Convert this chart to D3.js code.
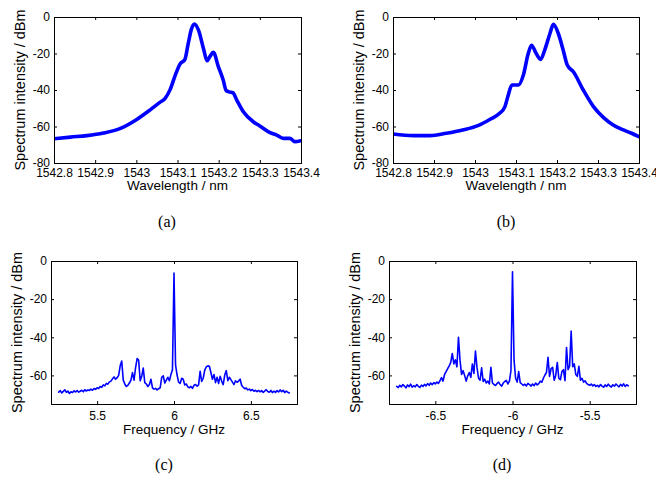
<!DOCTYPE html>
<html>
<head>
<meta charset="utf-8">
<script src="https://cdn.jsdelivr.net/npm/d3@7"></script>
<style>
  body { margin: 0; background: #fff; }
  svg { display: block; }
  text { font-family: "Liberation Sans", Arial, Helvetica, sans-serif; fill: #000; }
  .caption { font-family: "Liberation Serif", "Times New Roman", serif; font-size: 16px; }
</style>
</head>
<body>
<svg id="chart" width="656" height="478"></svg>
<script>
// (a) optical spectrum, wavelength in nm / dBm
const wavelengthA = [1542.80, 1542.84, 1542.88, 1542.92, 1542.96, 1543.00, 1543.033, 1543.057, 1543.07, 1543.082,
  1543.096, 1543.106, 1543.118, 1543.126, 1543.134, 1543.141, 1543.151, 1543.163, 1543.172, 1543.179,
  1543.187, 1543.199, 1543.211, 1543.218, 1543.225, 1543.235, 1543.244, 1543.26, 1543.284, 1543.30,
  1543.325, 1543.341, 1543.357, 1543.373, 1543.385, 1543.40]
const spectrumA = [-66.7, -65.8, -65.0, -63.6, -61.2, -56.3, -51.0, -46.8, -44.6, -39.8,
  -31.0, -25.8, -23.2, -14.6, -6.5, -3.8, -7.2, -17.2, -24.0, -21.6,
  -19.4, -27.0, -34.5, -40.2, -41.0, -41.6, -45.5, -51.9, -57.4, -59.7,
  -63.4, -64.7, -66.5, -66.5, -68.3, -67.8]

// (b) optical spectrum
const wavelengthB = [1542.80, 1542.85, 1542.89, 1542.93, 1542.97, 1543.01, 1543.037, 1543.06, 1543.073, 1543.08,
  1543.09, 1543.106, 1543.118, 1543.13, 1543.138, 1543.149, 1543.16, 1543.17, 1543.183, 1543.191,
  1543.203, 1543.215, 1543.225, 1543.24, 1543.264, 1543.289, 1543.313, 1543.337, 1543.362, 1543.382,
  1543.40]
const spectrumB = [-64.1, -65.0, -65.0, -63.7, -61.9, -59.2, -56.0, -52.8, -49.1, -43.7,
  -37.3, -37.3, -31.8, -19.9, -15.5, -19.9, -23.2, -18.1, -8.9, -4.0,
  -8.9, -18.1, -26.3, -30.0, -40.0, -49.1, -55.0, -59.2, -61.9, -63.7,
  -65.6]

// (c) RF spectrum, sampled every 0.01 GHz from 5.25 GHz
const freqStartC = 5.25
const dbmC = [
  -68.8, -68.0, -69.2, -68.4, -67.6, -68.9, -68.2, -69.5, -68.6, -69.0,
  -68.1, -68.7, -67.9, -68.8, -68.3, -67.8, -68.6, -67.5, -68.2, -67.6,
  -67.9, -67.2, -67.8, -66.9, -67.3, -66.5, -66.9, -65.8, -66.2, -65.0,
  -65.5, -64.2, -64.6, -63.4, -63.0, -61.8, -60.8, -62.0, -61.2, -60.0,
  -55.0, -52.5, -62.5, -64.5, -65.8, -65.2, -64.0, -62.5, -58.5, -62.5,
  -56.0, -51.2, -52.0, -62.8, -60.5, -56.2, -63.8, -64.5, -65.8, -64.8,
  -62.0, -66.5, -67.2, -66.8, -67.6, -67.0, -66.5, -61.0, -60.2, -64.0,
  -62.5, -61.0, -62.8, -59.5, -57.0, -6.3, -54.5, -59.8, -63.5, -64.2,
  -61.5, -62.0, -65.0, -64.5, -66.0, -66.5, -65.8, -66.8, -65.2, -64.8,
  -65.6, -65.0, -57.8, -63.2, -61.5, -57.2, -55.5, -55.0, -55.2, -58.5,
  -62.0, -59.5, -63.8, -61.0, -64.2, -60.5, -63.0, -64.8, -59.8, -57.5,
  -62.8, -61.0, -62.2, -63.5, -64.8, -62.8, -63.6, -63.0, -62.0, -65.2,
  -66.2, -67.0, -66.6, -67.6, -67.2, -68.0, -67.4, -68.3, -67.8, -68.5,
  -67.9, -68.6, -68.0, -68.9, -68.2, -67.5, -68.4, -68.8, -67.9, -69.0,
  -68.3, -68.9, -68.0, -68.7, -67.6, -68.5, -67.8, -69.0, -68.2, -68.8,
  -69.2]

// (d) RF spectrum, sampled every 0.01 GHz from -6.75 GHz
const freqStartD = -6.75
const dbmD = [
  -65.8, -66.4, -65.2, -66.0, -64.8, -65.6, -66.5, -65.0, -65.9, -64.6,
  -66.2, -65.4, -66.0, -64.8, -65.7, -66.3, -65.1, -65.8, -64.7, -65.5,
  -64.3, -65.2, -64.0, -64.9, -63.8, -64.5, -63.5, -64.2, -62.8, -61.2,
  -63.0, -59.5, -58.0, -56.5, -55.0, -53.2, -48.5, -54.0, -51.8, -55.5,
  -40.0, -52.0, -59.5, -57.5, -60.0, -63.0, -60.2, -58.5, -61.0, -54.0,
  -59.0, -47.2, -55.8, -61.5, -62.5, -56.0, -63.2, -62.0, -64.0, -63.0,
  -64.5, -55.8, -64.0, -64.8, -65.3, -64.2, -63.5, -64.8, -65.6, -64.0,
  -63.2, -62.6, -64.5, -63.0, -57.5, -5.7, -52.0, -61.5, -63.5, -58.0,
  -63.8, -64.5, -65.2, -64.6, -65.5, -64.2, -64.8, -65.6, -64.5, -65.4,
  -64.0, -65.0, -64.3, -63.0, -63.6, -61.5, -59.8, -58.5, -50.5, -60.5,
  -56.5, -55.8, -62.5, -60.0, -53.2, -61.5, -62.3, -58.0, -57.0, -62.8,
  -45.4, -57.0, -55.0, -36.8, -55.5, -54.0, -59.5, -60.5, -55.2, -62.5,
  -61.5, -63.5, -62.8, -64.2, -64.8, -65.2, -64.5, -65.5, -64.8, -65.8,
  -65.2, -66.0, -64.8, -65.6, -66.2, -65.0, -65.8, -64.6, -65.5, -66.1,
  -64.9, -65.7, -64.5, -65.3, -66.0, -64.7, -65.6, -64.4, -65.8, -64.9,
  -65.5]

const freqStep = 0.01
const freqC = dbmC.map((_, i) => +(freqStartC + i * freqStep).toFixed(2))
const freqD = dbmD.map((_, i) => +(freqStartD + i * freqStep).toFixed(2))

const waveTicks = [1542.8, 1542.9, 1543, 1543.1, 1543.2, 1543.3, 1543.4]
const freqTicksC = [5.5, 6, 6.5]
const freqTicksD = [-6.5, -6, -5.5]
const dbmTicksTop = [0, -20, -40, -60, -80]
const dbmTicksBottom = [0, -20, -40, -60]

const yTitle = "Spectrum intensity  / dBm"

const panels = [
  {x: wavelengthA, y: spectrumA, xDomain: [1542.8, 1543.4], yDomain: [-80, 0], xTicks: waveTicks, yTicks: dbmTicksTop,
   xTitle: "Wavelength / nm", caption: "(a)", box: [54, 17, 301, 163], lw: 3.6, smooth: true,
   tickGap: 5.5, titleY: 27, capX: 167, capY: 227},
  {x: wavelengthB, y: spectrumB, xDomain: [1542.8, 1543.4], yDomain: [-80, 0], xTicks: waveTicks, yTicks: dbmTicksTop,
   xTitle: "Wavelength / nm", caption: "(b)", box: [393, 17, 639, 163], lw: 3.6, smooth: true,
   tickGap: 5.5, titleY: 27, capX: 506, capY: 227},
  {x: freqC, y: dbmC, xDomain: [5.2, 6.8], yDomain: [-75, 0], xTicks: freqTicksC, yTicks: dbmTicksBottom,
   xTitle: "Frequency / GHz", caption: "(c)", box: [51, 261, 297, 404], lw: 1.6, smooth: false,
   tickGap: 7, titleY: 29.5, capX: 164, capY: 470},
  {x: freqD, y: dbmD, xDomain: [-6.8, -5.2], yDomain: [-75, 0], xTicks: freqTicksD, yTicks: dbmTicksBottom,
   xTitle: "Frequency / GHz", caption: "(d)", box: [389, 261, 636, 404], lw: 1.6, smooth: false,
   tickGap: 7, titleY: 29.5, capX: 502, capY: 470}
]

const svg = d3.select("#chart")

panels.forEach(p => {
  const [x0, y0, x1, y1] = p.box
  const x = d3.scaleLinear().domain(p.xDomain).range([x0, x1])
  const y = d3.scaleLinear().domain(p.yDomain).range([y1, y0])
  const g = svg.append("g")

  // clip so the curve stays inside the box
  const clipId = "clip-" + p.caption.replace(/\W/g, "")
  svg.append("clipPath").attr("id", clipId)
    .append("rect").attr("x", x0).attr("y", y0).attr("width", x1 - x0).attr("height", y1 - y0)

  const line = d3.line()
    .x((d, i) => x(p.x[i]))
    .y(d => y(d))
    .curve(p.smooth ? d3.curveMonotoneX : d3.curveLinear)

  g.append("path")
    .datum(p.y)
    .attr("clip-path", `url(#${clipId})`)
    .attr("fill", "none")
    .attr("stroke", "#0000ff")
    .attr("stroke-width", p.lw)
    .attr("stroke-linejoin", "round")
    .attr("stroke-linecap", "round")
    .attr("d", line)

  // matlab style axes: inward ticks on all four sides
  const fmt = d => String(d)
  g.append("g").attr("transform", `translate(0,${y1})`)
    .call(d3.axisBottom(x).tickValues(p.xTicks).tickFormat(fmt).tickSize(-3).tickPadding(p.tickGap))
  g.append("g").attr("transform", `translate(0,${y0})`)
    .call(d3.axisTop(x).tickValues(p.xTicks).tickFormat("").tickSize(-3))
  g.append("g").attr("transform", `translate(${x0},0)`)
    .call(d3.axisLeft(y).tickValues(p.yTicks).tickFormat(fmt).tickSize(-3).tickPadding(4))
  g.append("g").attr("transform", `translate(${x1},0)`)
    .call(d3.axisRight(y).tickValues(p.yTicks).tickFormat("").tickSize(-3))

  g.selectAll(".domain").attr("stroke", "#000").attr("stroke-width", 1)
  g.selectAll(".tick line").attr("stroke", "#000")
  g.selectAll(".tick text").attr("font-size", 12).attr("font-family", null).style("fill", "#000")

  g.append("text")
    .attr("x", (x0 + x1) / 2)
    .attr("y", y1 + p.titleY)
    .attr("text-anchor", "middle")
    .attr("font-size", 13.5)
    .text(p.xTitle)

  g.append("text")
    .attr("transform", `translate(${x0 - 29},${(y0 + y1) / 2}) rotate(-90)`)
    .attr("text-anchor", "middle")
    .attr("font-size", 14.5)
    .text(yTitle)

  svg.append("text")
    .attr("class", "caption")
    .attr("x", p.capX)
    .attr("y", p.capY)
    .attr("text-anchor", "middle")
    .text(p.caption)
})
</script>
</body>
</html>
